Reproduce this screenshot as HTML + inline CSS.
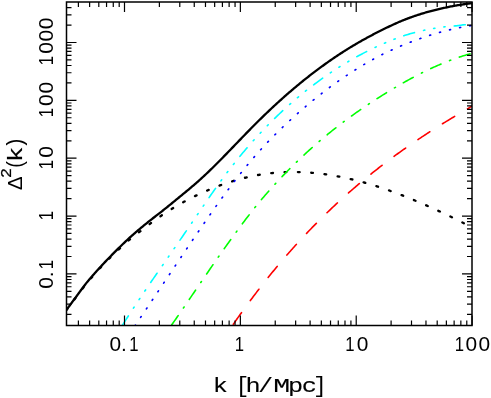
<!DOCTYPE html>
<html><head><meta charset="utf-8"><title>plot</title>
<style>
html,body{margin:0;padding:0;background:#fff;}
body{width:491px;height:398px;position:relative;overflow:hidden;font-family:"Liberation Mono",monospace;}
.t{position:absolute;font-family:"Liberation Mono",monospace;font-size:20px;color:#000;white-space:nowrap;line-height:24px;}
</style></head><body>
<svg width="491" height="398" viewBox="0 0 491 398" style="position:absolute;left:0;top:0">
<defs><clipPath id="c"><rect x="66.5" y="2.0" width="405.5" height="323.5"/></clipPath></defs>
<g clip-path="url(#c)" fill="none" stroke-linecap="butt" stroke-linejoin="round">
<path d="M26.90,357.52 L27.90,356.31 L28.90,355.10 L29.90,353.90 L30.90,352.69 L31.90,351.48 L32.90,350.28 L33.90,349.07 L34.90,347.87 L35.90,346.66 L36.90,345.45 L37.90,344.25 L38.90,343.04 L39.90,341.83 L40.90,340.63 L41.90,339.42 L42.90,338.21 L43.90,337.01 L44.90,335.80 L45.90,334.59 L46.90,333.39 L47.90,332.18 L48.90,330.98 L49.90,329.77 L50.90,328.56 L51.90,327.36 L52.90,326.15 L53.90,324.94 L54.90,323.74 L55.90,322.53 L56.90,321.32 L57.90,320.12 L58.90,318.91 L59.90,317.71 L60.90,316.50 L61.90,315.29 L62.90,314.09 L63.90,312.88 L64.90,311.67 L65.90,310.47 L66.90,309.22 L67.90,307.90 L68.90,306.58 L69.90,305.27 L70.90,303.95 L71.90,302.64 L72.90,301.33 L73.90,300.02 L74.90,298.71 L75.90,297.40 L76.90,296.08 L77.90,294.75 L78.90,293.41 L79.90,292.06 L80.90,290.71 L81.90,289.37 L82.90,288.04 L83.90,286.72 L84.90,285.43 L85.90,284.16 L86.90,282.93 L87.90,281.73 L88.90,280.56 L89.90,279.41 L90.90,278.27 L91.90,277.14 L92.90,276.01 L93.90,274.89 L94.90,273.78 L95.90,272.66 L96.90,271.54 L97.90,270.42 L98.90,269.31 L99.90,268.20 L100.90,267.10 L101.90,266.01 L102.90,264.93 L103.90,263.86 L104.90,262.80 L105.90,261.76 L106.90,260.74 L107.90,259.74 L108.90,258.77 L109.90,257.81 L110.90,256.87 L111.90,255.94 L112.90,255.01 L113.90,254.06 L114.90,253.11 L115.90,252.14 L116.90,251.18 L117.90,250.22 L118.90,249.27 L119.90,248.33 L120.90,247.39 L121.90,246.46 L122.90,245.53 L123.90,244.61 L124.90,243.70 L125.90,242.79 L126.90,241.91 L127.90,241.04 L128.90,240.19 L129.90,239.36 L130.90,238.54 L131.90,237.73 L132.90,236.93 L133.90,236.15 L134.90,235.37 L135.90,234.59 L136.90,233.82 L137.90,233.06 L138.90,232.30 L139.90,231.53 L140.90,230.77 L141.90,230.00 L142.90,229.23 L143.90,228.46 L144.90,227.68 L145.90,226.89 L146.90,226.11 L147.90,225.34 L148.90,224.58 L149.90,223.82 L150.90,223.07 L151.90,222.33 L152.90,221.59 L153.90,220.86 L154.90,220.13 L155.90,219.42 L156.90,218.70 L157.90,218.00 L158.90,217.30 L159.90,216.61 L160.90,215.92 L161.90,215.25 L162.90,214.57 L163.90,213.91 L164.90,213.25 L165.90,212.59 L166.90,211.94 L167.90,211.30 L168.90,210.67 L169.90,210.04 L170.90,209.41 L171.90,208.79 L172.90,208.18 L173.90,207.58 L174.90,206.98 L175.90,206.38 L176.90,205.79 L177.90,205.21 L178.90,204.63 L179.90,204.06 L180.90,203.50 L181.90,202.94 L182.90,202.38 L183.90,201.83 L184.90,201.29 L185.90,200.75 L186.90,200.22 L187.90,199.69 L188.90,199.17 L189.90,198.65 L190.90,198.14 L191.90,197.64 L192.90,197.14 L193.90,196.64 L194.90,196.15 L195.90,195.66 L196.90,195.18 L197.90,194.71 L198.90,194.24 L199.90,193.77 L200.90,193.31 L201.90,192.86 L202.90,192.40 L203.90,191.96 L204.90,191.52 L205.90,191.08 L206.90,190.65 L207.90,190.22 L208.90,189.80 L209.90,189.38 L210.90,188.97 L211.90,188.56 L212.90,188.16 L213.90,187.76 L214.90,187.36 L215.90,186.97 L216.90,186.59 L217.90,186.21 L218.90,185.83 L219.90,185.46 L220.90,185.09 L221.90,184.73 L222.90,184.38 L223.90,184.02 L224.90,183.68 L225.90,183.33 L226.90,183.00 L227.90,182.67 L228.90,182.34 L229.90,182.02 L230.90,181.70 L231.90,181.39 L232.90,181.08 L233.90,180.78 L234.90,180.48 L235.90,180.19 L236.90,179.90 L237.90,179.62 L238.90,179.34 L239.90,179.07 L240.90,178.80 L241.90,178.54 L242.90,178.28 L243.90,178.03 L244.90,177.78 L245.90,177.54 L246.90,177.30 L247.90,177.07 L248.90,176.84 L249.90,176.62 L250.90,176.41 L251.90,176.20 L252.90,175.99 L253.90,175.79 L254.90,175.59 L255.90,175.41 L256.90,175.22 L257.90,175.04 L258.90,174.87 L259.90,174.70 L260.90,174.54 L261.90,174.38 L262.90,174.23 L263.90,174.08 L264.90,173.94 L265.90,173.80 L266.90,173.67 L267.90,173.54 L268.90,173.42 L269.90,173.31 L270.90,173.19 L271.90,173.09 L272.90,172.99 L273.90,172.89 L274.90,172.80 L275.90,172.72 L276.90,172.63 L277.90,172.56 L278.90,172.49 L279.90,172.42 L280.90,172.36 L281.90,172.31 L282.90,172.25 L283.90,172.21 L284.90,172.17 L285.90,172.13 L286.90,172.10 L287.90,172.07 L288.90,172.05 L289.90,172.03 L290.90,172.02 L291.90,172.01 L292.90,172.01 L293.90,172.01 L294.90,172.01 L295.90,172.02 L296.90,172.04 L297.90,172.06 L298.90,172.08 L299.90,172.11 L300.90,172.14 L301.90,172.18 L302.90,172.22 L303.90,172.27 L304.90,172.32 L305.90,172.38 L306.90,172.44 L307.90,172.50 L308.90,172.57 L309.90,172.64 L310.90,172.72 L311.90,172.80 L312.90,172.89 L313.90,172.98 L314.90,173.07 L315.90,173.17 L316.90,173.27 L317.90,173.38 L318.90,173.49 L319.90,173.61 L320.90,173.73 L321.90,173.85 L322.90,173.98 L323.90,174.11 L324.90,174.24 L325.90,174.38 L326.90,174.53 L327.90,174.67 L328.90,174.83 L329.90,174.98 L330.90,175.14 L331.90,175.30 L332.90,175.47 L333.90,175.64 L334.90,175.82 L335.90,175.99 L336.90,176.18 L337.90,176.36 L338.90,176.55 L339.90,176.75 L340.90,176.94 L341.90,177.15 L342.90,177.35 L343.90,177.56 L344.90,177.77 L345.90,177.99 L346.90,178.21 L347.90,178.43 L348.90,178.66 L349.90,178.89 L350.90,179.12 L351.90,179.36 L352.90,179.60 L353.90,179.84 L354.90,180.09 L355.90,180.34 L356.90,180.59 L357.90,180.85 L358.90,181.11 L359.90,181.38 L360.90,181.64 L361.90,181.91 L362.90,182.19 L363.90,182.47 L364.90,182.75 L365.90,183.03 L366.90,183.32 L367.90,183.61 L368.90,183.90 L369.90,184.20 L370.90,184.50 L371.90,184.80 L372.90,185.11 L373.90,185.41 L374.90,185.73 L375.90,186.04 L376.90,186.36 L377.90,186.68 L378.90,187.00 L379.90,187.33 L380.90,187.66 L381.90,187.99 L382.90,188.33 L383.90,188.67 L384.90,189.01 L385.90,189.35 L386.90,189.70 L387.90,190.05 L388.90,190.40 L389.90,190.75 L390.90,191.11 L391.90,191.47 L392.90,191.84 L393.90,192.20 L394.90,192.57 L395.90,192.94 L396.90,193.32 L397.90,193.69 L398.90,194.07 L399.90,194.45 L400.90,194.84 L401.90,195.22 L402.90,195.61 L403.90,196.00 L404.90,196.40 L405.90,196.79 L406.90,197.19 L407.90,197.59 L408.90,197.99 L409.90,198.40 L410.90,198.81 L411.90,199.22 L412.90,199.63 L413.90,200.04 L414.90,200.46 L415.90,200.88 L416.90,201.30 L417.90,201.73 L418.90,202.15 L419.90,202.58 L420.90,203.01 L421.90,203.44 L422.90,203.88 L423.90,204.31 L424.90,204.75 L425.90,205.19 L426.90,205.63 L427.90,206.08 L428.90,206.52 L429.90,206.97 L430.90,207.42 L431.90,207.87 L432.90,208.33 L433.90,208.78 L434.90,209.24 L435.90,209.70 L436.90,210.16 L437.90,210.62 L438.90,211.09 L439.90,211.55 L440.90,212.02 L441.90,212.49 L442.90,212.96 L443.90,213.44 L444.90,213.91 L445.90,214.39 L446.90,214.87 L447.90,215.35 L448.90,215.83 L449.90,216.31 L450.90,216.79 L451.90,217.28 L452.90,217.77 L453.90,218.25 L454.90,218.74 L455.90,219.24 L456.90,219.73 L457.90,220.22 L458.90,220.72 L459.90,221.22 L460.90,221.71 L461.90,222.21 L462.90,222.71 L463.90,223.22 L464.90,223.72 L465.90,224.22 L466.90,224.73 L467.90,225.24 L468.90,225.75 L469.90,226.25 L470.90,226.76 L471.90,227.28 L472.90,227.79 L473.90,228.30 L474.90,228.81 L475.90,229.32 L476.90,229.84 L477.90,230.35 L478.90,230.86 L479.90,231.37 L480.90,231.88 L481.90,232.40 L482.90,232.91 L483.90,233.42 L484.90,233.93 L485.90,234.44 L486.90,234.96 L487.90,235.47 L488.90,235.98 L489.90,236.49 L490.90,237.01 L491.90,237.52" stroke="#000" stroke-width="2.35" stroke-dasharray="1.7,11.64" stroke-dashoffset="4.73" stroke-linecap="round"/>
<path d="M192.30,383.77 L193.30,382.32 L194.30,380.86 L195.30,379.41 L196.30,377.96 L197.30,376.51 L198.30,375.06 L199.30,373.61 L200.30,372.16 L201.30,370.71 L202.30,369.26 L203.30,367.81 L204.30,366.36 L205.30,364.91 L206.30,363.45 L207.30,362.00 L208.30,360.55 L209.30,359.10 L210.30,357.65 L211.30,356.20 L212.30,354.75 L213.30,353.30 L214.30,351.85 L215.30,350.40 L216.30,348.95 L217.30,347.50 L218.30,346.05 L219.30,344.59 L220.30,343.14 L221.30,341.69 L222.30,340.24 L223.30,338.79 L224.30,337.34 L225.30,335.89 L226.30,334.44 L227.30,332.99 L228.30,331.54 L229.30,330.09 L230.30,328.64 L231.30,327.19 L232.30,325.73 L233.30,324.29 L234.30,322.84 L235.30,321.41 L236.30,319.98 L237.30,318.56 L238.30,317.14 L239.30,315.73 L240.30,314.32 L241.30,312.92 L242.30,311.53 L243.30,310.14 L244.30,308.76 L245.30,307.38 L246.30,306.01 L247.30,304.65 L248.30,303.29 L249.30,301.93 L250.30,300.59 L251.30,299.24 L252.30,297.91 L253.30,296.58 L254.30,295.25 L255.30,293.93 L256.30,292.62 L257.30,291.31 L258.30,290.01 L259.30,288.71 L260.30,287.42 L261.30,286.14 L262.30,284.86 L263.30,283.58 L264.30,282.31 L265.30,281.05 L266.30,279.79 L267.30,278.54 L268.30,277.29 L269.30,276.05 L270.30,274.81 L271.30,273.58 L272.30,272.35 L273.30,271.13 L274.30,269.92 L275.30,268.71 L276.30,267.50 L277.30,266.30 L278.30,265.11 L279.30,263.92 L280.30,262.73 L281.30,261.55 L282.30,260.38 L283.30,259.21 L284.30,258.05 L285.30,256.89 L286.30,255.73 L287.30,254.58 L288.30,253.44 L289.30,252.30 L290.30,251.16 L291.30,250.03 L292.30,248.91 L293.30,247.79 L294.30,246.68 L295.30,245.57 L296.30,244.46 L297.30,243.36 L298.30,242.26 L299.30,241.17 L300.30,240.09 L301.30,239.00 L302.30,237.93 L303.30,236.86 L304.30,235.79 L305.30,234.73 L306.30,233.67 L307.30,232.61 L308.30,231.56 L309.30,230.52 L310.30,229.48 L311.30,228.44 L312.30,227.41 L313.30,226.39 L314.30,225.36 L315.30,224.35 L316.30,223.33 L317.30,222.32 L318.30,221.32 L319.30,220.32 L320.30,219.32 L321.30,218.33 L322.30,217.34 L323.30,216.36 L324.30,215.38 L325.30,214.41 L326.30,213.43 L327.30,212.47 L328.30,211.51 L329.30,210.55 L330.30,209.59 L331.30,208.64 L332.30,207.70 L333.30,206.76 L334.30,205.82 L335.30,204.89 L336.30,203.96 L337.30,203.03 L338.30,202.11 L339.30,201.19 L340.30,200.28 L341.30,199.37 L342.30,198.46 L343.30,197.56 L344.30,196.66 L345.30,195.76 L346.30,194.87 L347.30,193.99 L348.30,193.10 L349.30,192.22 L350.30,191.35 L351.30,190.48 L352.30,189.61 L353.30,188.74 L354.30,187.88 L355.30,187.02 L356.30,186.17 L357.30,185.32 L358.30,184.47 L359.30,183.63 L360.30,182.79 L361.30,181.95 L362.30,181.12 L363.30,180.29 L364.30,179.46 L365.30,178.64 L366.30,177.82 L367.30,177.00 L368.30,176.19 L369.30,175.38 L370.30,174.58 L371.30,173.77 L372.30,172.97 L373.30,172.18 L374.30,171.39 L375.30,170.60 L376.30,169.81 L377.30,169.03 L378.30,168.25 L379.30,167.47 L380.30,166.69 L381.30,165.92 L382.30,165.16 L383.30,164.39 L384.30,163.63 L385.30,162.87 L386.30,162.11 L387.30,161.36 L388.30,160.61 L389.30,159.86 L390.30,159.12 L391.30,158.38 L392.30,157.64 L393.30,156.90 L394.30,156.17 L395.30,155.44 L396.30,154.71 L397.30,153.99 L398.30,153.27 L399.30,152.55 L400.30,151.83 L401.30,151.12 L402.30,150.41 L403.30,149.70 L404.30,148.99 L405.30,148.29 L406.30,147.59 L407.30,146.89 L408.30,146.20 L409.30,145.50 L410.30,144.81 L411.30,144.12 L412.30,143.44 L413.30,142.76 L414.30,142.07 L415.30,141.40 L416.30,140.72 L417.30,140.05 L418.30,139.38 L419.30,138.71 L420.30,138.04 L421.30,137.38 L422.30,136.71 L423.30,136.05 L424.30,135.40 L425.30,134.74 L426.30,134.09 L427.30,133.43 L428.30,132.79 L429.30,132.14 L430.30,131.49 L431.30,130.85 L432.30,130.21 L433.30,129.57 L434.30,128.93 L435.30,128.30 L436.30,127.67 L437.30,127.04 L438.30,126.41 L439.30,125.78 L440.30,125.15 L441.30,124.53 L442.30,123.91 L443.30,123.29 L444.30,122.67 L445.30,122.06 L446.30,121.44 L447.30,120.83 L448.30,120.22 L449.30,119.61 L450.30,119.00 L451.30,118.39 L452.30,117.79 L453.30,117.19 L454.30,116.59 L455.30,115.99 L456.30,115.39 L457.30,114.79 L458.30,114.20 L459.30,113.60 L460.30,113.01 L461.30,112.42 L462.30,111.83 L463.30,111.25 L464.30,110.66 L465.30,110.08 L466.30,109.49 L467.30,108.91 L468.30,108.33 L469.30,107.75 L470.30,107.17 L471.30,106.59 L472.30,106.02 L473.30,105.44 L474.30,104.87 L475.30,104.29 L476.30,103.72 L477.30,103.14 L478.30,102.57 L479.30,101.99 L480.30,101.42 L481.30,100.84 L482.30,100.27 L483.30,99.69 L484.30,99.12 L485.30,98.54 L486.30,97.96 L487.30,97.39 L488.30,96.81 L489.30,96.24 L490.30,95.66 L491.30,95.09" stroke="#ff0000" stroke-width="1.6" stroke-dasharray="14.2,15.0" stroke-dashoffset="15.36" stroke-linecap="round"/>
<path d="M130.50,383.41 L131.50,381.99 L132.50,380.57 L133.50,379.15 L134.50,377.73 L135.50,376.31 L136.50,374.89 L137.50,373.47 L138.50,372.04 L139.50,370.62 L140.50,369.20 L141.50,367.78 L142.50,366.36 L143.50,364.94 L144.50,363.52 L145.50,362.10 L146.50,360.68 L147.50,359.25 L148.50,357.83 L149.50,356.41 L150.50,354.99 L151.50,353.57 L152.50,352.15 L153.50,350.73 L154.50,349.31 L155.50,347.89 L156.50,346.46 L157.50,345.04 L158.50,343.62 L159.50,342.20 L160.50,340.78 L161.50,339.36 L162.50,337.94 L163.50,336.52 L164.50,335.10 L165.50,333.67 L166.50,332.25 L167.50,330.83 L168.50,329.41 L169.50,327.99 L170.50,326.57 L171.50,325.15 L172.50,323.72 L173.50,322.29 L174.50,320.86 L175.50,319.42 L176.50,317.98 L177.50,316.54 L178.50,315.09 L179.50,313.65 L180.50,312.20 L181.50,310.74 L182.50,309.29 L183.50,307.83 L184.50,306.38 L185.50,304.92 L186.50,303.45 L187.50,301.99 L188.50,300.53 L189.50,299.06 L190.50,297.60 L191.50,296.13 L192.50,294.66 L193.50,293.19 L194.50,291.73 L195.50,290.26 L196.50,288.79 L197.50,287.32 L198.50,285.85 L199.50,284.39 L200.50,282.92 L201.50,281.45 L202.50,279.99 L203.50,278.52 L204.50,277.06 L205.50,275.60 L206.50,274.14 L207.50,272.68 L208.50,271.22 L209.50,269.77 L210.50,268.31 L211.50,266.86 L212.50,265.41 L213.50,263.97 L214.50,262.53 L215.50,261.08 L216.50,259.65 L217.50,258.21 L218.50,256.78 L219.50,255.35 L220.50,253.93 L221.50,252.51 L222.50,251.09 L223.50,249.68 L224.50,248.27 L225.50,246.87 L226.50,245.47 L227.50,244.07 L228.50,242.68 L229.50,241.29 L230.50,239.91 L231.50,238.53 L232.50,237.16 L233.50,235.78 L234.50,234.41 L235.50,233.04 L236.50,231.68 L237.50,230.32 L238.50,228.96 L239.50,227.61 L240.50,226.26 L241.50,224.92 L242.50,223.58 L243.50,222.25 L244.50,220.92 L245.50,219.60 L246.50,218.29 L247.50,216.98 L248.50,215.68 L249.50,214.39 L250.50,213.10 L251.50,211.82 L252.50,210.55 L253.50,209.29 L254.50,208.04 L255.50,206.79 L256.50,205.56 L257.50,204.33 L258.50,203.12 L259.50,201.91 L260.50,200.72 L261.50,199.53 L262.50,198.35 L263.50,197.18 L264.50,196.01 L265.50,194.85 L266.50,193.70 L267.50,192.55 L268.50,191.42 L269.50,190.28 L270.50,189.16 L271.50,188.04 L272.50,186.93 L273.50,185.82 L274.50,184.73 L275.50,183.63 L276.50,182.55 L277.50,181.47 L278.50,180.40 L279.50,179.33 L280.50,178.27 L281.50,177.22 L282.50,176.17 L283.50,175.12 L284.50,174.09 L285.50,173.06 L286.50,172.03 L287.50,171.01 L288.50,170.00 L289.50,168.99 L290.50,167.99 L291.50,167.00 L292.50,166.01 L293.50,165.02 L294.50,164.04 L295.50,163.07 L296.50,162.10 L297.50,161.13 L298.50,160.17 L299.50,159.22 L300.50,158.27 L301.50,157.33 L302.50,156.39 L303.50,155.46 L304.50,154.53 L305.50,153.60 L306.50,152.69 L307.50,151.77 L308.50,150.86 L309.50,149.96 L310.50,149.06 L311.50,148.17 L312.50,147.28 L313.50,146.39 L314.50,145.51 L315.50,144.64 L316.50,143.77 L317.50,142.90 L318.50,142.04 L319.50,141.18 L320.50,140.33 L321.50,139.48 L322.50,138.64 L323.50,137.80 L324.50,136.97 L325.50,136.14 L326.50,135.31 L327.50,134.49 L328.50,133.68 L329.50,132.86 L330.50,132.05 L331.50,131.25 L332.50,130.45 L333.50,129.66 L334.50,128.86 L335.50,128.08 L336.50,127.29 L337.50,126.51 L338.50,125.74 L339.50,124.97 L340.50,124.20 L341.50,123.44 L342.50,122.68 L343.50,121.92 L344.50,121.17 L345.50,120.42 L346.50,119.68 L347.50,118.94 L348.50,118.20 L349.50,117.47 L350.50,116.74 L351.50,116.02 L352.50,115.30 L353.50,114.58 L354.50,113.86 L355.50,113.15 L356.50,112.45 L357.50,111.74 L358.50,111.04 L359.50,110.34 L360.50,109.65 L361.50,108.96 L362.50,108.27 L363.50,107.59 L364.50,106.91 L365.50,106.23 L366.50,105.56 L367.50,104.89 L368.50,104.22 L369.50,103.56 L370.50,102.89 L371.50,102.24 L372.50,101.58 L373.50,100.93 L374.50,100.28 L375.50,99.63 L376.50,98.99 L377.50,98.35 L378.50,97.71 L379.50,97.08 L380.50,96.45 L381.50,95.82 L382.50,95.19 L383.50,94.57 L384.50,93.95 L385.50,93.33 L386.50,92.72 L387.50,92.10 L388.50,91.49 L389.50,90.89 L390.50,90.28 L391.50,89.68 L392.50,89.08 L393.50,88.48 L394.50,87.89 L395.50,87.30 L396.50,86.71 L397.50,86.13 L398.50,85.55 L399.50,84.97 L400.50,84.39 L401.50,83.82 L402.50,83.25 L403.50,82.68 L404.50,82.12 L405.50,81.56 L406.50,81.00 L407.50,80.45 L408.50,79.90 L409.50,79.36 L410.50,78.81 L411.50,78.27 L412.50,77.74 L413.50,77.20 L414.50,76.67 L415.50,76.15 L416.50,75.63 L417.50,75.11 L418.50,74.59 L419.50,74.08 L420.50,73.58 L421.50,73.07 L422.50,72.57 L423.50,72.08 L424.50,71.58 L425.50,71.10 L426.50,70.61 L427.50,70.13 L428.50,69.66 L429.50,69.18 L430.50,68.72 L431.50,68.25 L432.50,67.79 L433.50,67.34 L434.50,66.88 L435.50,66.44 L436.50,65.99 L437.50,65.56 L438.50,65.12 L439.50,64.69 L440.50,64.26 L441.50,63.84 L442.50,63.43 L443.50,63.01 L444.50,62.61 L445.50,62.20 L446.50,61.80 L447.50,61.41 L448.50,61.02 L449.50,60.64 L450.50,60.26 L451.50,59.88 L452.50,59.51 L453.50,59.15 L454.50,58.79 L455.50,58.43 L456.50,58.08 L457.50,57.73 L458.50,57.39 L459.50,57.06 L460.50,56.73 L461.50,56.40 L462.50,56.08 L463.50,55.76 L464.50,55.45 L465.50,55.15 L466.50,54.85 L467.50,54.56 L468.50,54.27 L469.50,53.98 L470.50,53.70 L471.50,53.43 L472.50,53.16 L473.50,52.89 L474.50,52.62 L475.50,52.36 L476.50,52.09 L477.50,51.82 L478.50,51.55 L479.50,51.28 L480.50,51.01 L481.50,50.74 L482.50,50.47 L483.50,50.20 L484.50,49.93 L485.50,49.67 L486.50,49.40 L487.50,49.13 L488.50,48.86 L489.50,48.59 L490.50,48.32 L491.50,48.05" stroke="#00ff00" stroke-width="1.6" stroke-dasharray="11.2,9.25,1.2,9.16" stroke-dashoffset="20.75" stroke-linecap="round"/>
<path d="M95.30,384.14 L96.30,382.67 L97.30,381.20 L98.30,379.73 L99.30,378.26 L100.30,376.78 L101.30,375.31 L102.30,373.84 L103.30,372.37 L104.30,370.89 L105.30,369.42 L106.30,367.95 L107.30,366.48 L108.30,365.01 L109.30,363.53 L110.30,362.06 L111.30,360.59 L112.30,359.12 L113.30,357.65 L114.30,356.17 L115.30,354.70 L116.30,353.23 L117.30,351.76 L118.30,350.28 L119.30,348.81 L120.30,347.34 L121.30,345.87 L122.30,344.40 L123.30,342.92 L124.30,341.45 L125.30,339.98 L126.30,338.51 L127.30,337.04 L128.30,335.56 L129.30,334.09 L130.30,332.62 L131.30,331.15 L132.30,329.67 L133.30,328.20 L134.30,326.73 L135.30,325.26 L136.30,323.79 L137.30,322.31 L138.30,320.84 L139.30,319.36 L140.30,317.88 L141.30,316.40 L142.30,314.92 L143.30,313.44 L144.30,311.96 L145.30,310.47 L146.30,308.99 L147.30,307.50 L148.30,306.02 L149.30,304.53 L150.30,303.04 L151.30,301.55 L152.30,300.06 L153.30,298.57 L154.30,297.08 L155.30,295.59 L156.30,294.10 L157.30,292.61 L158.30,291.12 L159.30,289.62 L160.30,288.13 L161.30,286.64 L162.30,285.15 L163.30,283.65 L164.30,282.16 L165.30,280.67 L166.30,279.17 L167.30,277.68 L168.30,276.19 L169.30,274.69 L170.30,273.20 L171.30,271.71 L172.30,270.21 L173.30,268.72 L174.30,267.23 L175.30,265.74 L176.30,264.25 L177.30,262.76 L178.30,261.27 L179.30,259.78 L180.30,258.29 L181.30,256.80 L182.30,255.32 L183.30,253.83 L184.30,252.35 L185.30,250.86 L186.30,249.38 L187.30,247.90 L188.30,246.42 L189.30,244.94 L190.30,243.46 L191.30,241.98 L192.30,240.51 L193.30,239.03 L194.30,237.56 L195.30,236.09 L196.30,234.62 L197.30,233.16 L198.30,231.69 L199.30,230.23 L200.30,228.77 L201.30,227.32 L202.30,225.86 L203.30,224.41 L204.30,222.96 L205.30,221.52 L206.30,220.08 L207.30,218.64 L208.30,217.21 L209.30,215.78 L210.30,214.35 L211.30,212.92 L212.30,211.50 L213.30,210.09 L214.30,208.68 L215.30,207.27 L216.30,205.87 L217.30,204.47 L218.30,203.07 L219.30,201.69 L220.30,200.30 L221.30,198.92 L222.30,197.55 L223.30,196.18 L224.30,194.81 L225.30,193.46 L226.30,192.10 L227.30,190.76 L228.30,189.41 L229.30,188.08 L230.30,186.75 L231.30,185.42 L232.30,184.10 L233.30,182.79 L234.30,181.49 L235.30,180.19 L236.30,178.89 L237.30,177.61 L238.30,176.33 L239.30,175.06 L240.30,173.79 L241.30,172.53 L242.30,171.28 L243.30,170.04 L244.30,168.80 L245.30,167.57 L246.30,166.35 L247.30,165.13 L248.30,163.93 L249.30,162.73 L250.30,161.54 L251.30,160.36 L252.30,159.18 L253.30,158.02 L254.30,156.86 L255.30,155.71 L256.30,154.57 L257.30,153.44 L258.30,152.32 L259.30,151.20 L260.30,150.09 L261.30,148.99 L262.30,147.90 L263.30,146.82 L264.30,145.74 L265.30,144.67 L266.30,143.61 L267.30,142.55 L268.30,141.51 L269.30,140.46 L270.30,139.43 L271.30,138.40 L272.30,137.38 L273.30,136.37 L274.30,135.36 L275.30,134.36 L276.30,133.37 L277.30,132.38 L278.30,131.39 L279.30,130.42 L280.30,129.45 L281.30,128.48 L282.30,127.52 L283.30,126.57 L284.30,125.62 L285.30,124.67 L286.30,123.73 L287.30,122.80 L288.30,121.87 L289.30,120.95 L290.30,120.03 L291.30,119.11 L292.30,118.20 L293.30,117.30 L294.30,116.39 L295.30,115.50 L296.30,114.60 L297.30,113.72 L298.30,112.83 L299.30,111.95 L300.30,111.08 L301.30,110.21 L302.30,109.34 L303.30,108.48 L304.30,107.63 L305.30,106.78 L306.30,105.93 L307.30,105.09 L308.30,104.25 L309.30,103.41 L310.30,102.58 L311.30,101.76 L312.30,100.94 L313.30,100.12 L314.30,99.31 L315.30,98.50 L316.30,97.70 L317.30,96.90 L318.30,96.11 L319.30,95.32 L320.30,94.54 L321.30,93.76 L322.30,92.98 L323.30,92.21 L324.30,91.44 L325.30,90.68 L326.30,89.92 L327.30,89.17 L328.30,88.42 L329.30,87.67 L330.30,86.93 L331.30,86.20 L332.30,85.47 L333.30,84.74 L334.30,84.02 L335.30,83.30 L336.30,82.58 L337.30,81.87 L338.30,81.17 L339.30,80.47 L340.30,79.77 L341.30,79.08 L342.30,78.39 L343.30,77.71 L344.30,77.03 L345.30,76.35 L346.30,75.68 L347.30,75.02 L348.30,74.36 L349.30,73.70 L350.30,73.05 L351.30,72.40 L352.30,71.75 L353.30,71.11 L354.30,70.48 L355.30,69.85 L356.30,69.22 L357.30,68.60 L358.30,67.98 L359.30,67.36 L360.30,66.75 L361.30,66.15 L362.30,65.55 L363.30,64.95 L364.30,64.36 L365.30,63.77 L366.30,63.19 L367.30,62.61 L368.30,62.03 L369.30,61.46 L370.30,60.89 L371.30,60.33 L372.30,59.77 L373.30,59.22 L374.30,58.67 L375.30,58.12 L376.30,57.58 L377.30,57.04 L378.30,56.51 L379.30,55.98 L380.30,55.46 L381.30,54.94 L382.30,54.43 L383.30,53.93 L384.30,53.44 L385.30,52.95 L386.30,52.48 L387.30,52.00 L388.30,51.54 L389.30,51.08 L390.30,50.62 L391.30,50.17 L392.30,49.72 L393.30,49.28 L394.30,48.84 L395.30,48.40 L396.30,47.97 L397.30,47.54 L398.30,47.11 L399.30,46.68 L400.30,46.26 L401.30,45.83 L402.30,45.42 L403.30,45.00 L404.30,44.59 L405.30,44.18 L406.30,43.78 L407.30,43.38 L408.30,42.99 L409.30,42.60 L410.30,42.21 L411.30,41.83 L412.30,41.45 L413.30,41.07 L414.30,40.70 L415.30,40.32 L416.30,39.96 L417.30,39.59 L418.30,39.23 L419.30,38.87 L420.30,38.51 L421.30,38.16 L422.30,37.81 L423.30,37.46 L424.30,37.12 L425.30,36.78 L426.30,36.45 L427.30,36.12 L428.30,35.79 L429.30,35.47 L430.30,35.15 L431.30,34.84 L432.30,34.53 L433.30,34.22 L434.30,33.92 L435.30,33.63 L436.30,33.33 L437.30,33.04 L438.30,32.76 L439.30,32.48 L440.30,32.20 L441.30,31.93 L442.30,31.66 L443.30,31.39 L444.30,31.13 L445.30,30.88 L446.30,30.62 L447.30,30.37 L448.30,30.13 L449.30,29.89 L450.30,29.65 L451.30,29.42 L452.30,29.19 L453.30,28.96 L454.30,28.74 L455.30,28.52 L456.30,28.31 L457.30,28.10 L458.30,27.90 L459.30,27.70 L460.30,27.50 L461.30,27.30 L462.30,27.11 L463.30,26.93 L464.30,26.75 L465.30,26.57 L466.30,26.40 L467.30,26.23 L468.30,26.06 L469.30,25.90 L470.30,25.74 L471.30,25.58 L472.30,25.42 L473.30,25.26 L474.30,25.10 L475.30,24.95 L476.30,24.79 L477.30,24.63 L478.30,24.47 L479.30,24.31 L480.30,24.15 L481.30,23.99 L482.30,23.83 L483.30,23.68 L484.30,23.52 L485.30,23.36 L486.30,23.20 L487.30,23.04 L488.30,22.88 L489.30,22.72" stroke="#0000ff" stroke-width="1.65" stroke-dasharray="1.0,9.32" stroke-dashoffset="1.88" stroke-linecap="round"/>
<path d="M82.00,389.39 L83.00,387.81 L84.00,386.22 L85.00,384.63 L86.00,383.05 L87.00,381.46 L88.00,379.87 L89.00,378.28 L90.00,376.70 L91.00,375.11 L92.00,373.52 L93.00,371.93 L94.00,370.35 L95.00,368.76 L96.00,367.17 L97.00,365.58 L98.00,364.00 L99.00,362.41 L100.00,360.82 L101.00,359.23 L102.00,357.65 L103.00,356.06 L104.00,354.47 L105.00,352.88 L106.00,351.30 L107.00,349.71 L108.00,348.12 L109.00,346.53 L110.00,344.95 L111.00,343.36 L112.00,341.77 L113.00,340.18 L114.00,338.60 L115.00,337.01 L116.00,335.42 L117.00,333.83 L118.00,332.25 L119.00,330.66 L120.00,329.07 L121.00,327.48 L122.00,325.90 L123.00,324.31 L124.00,322.73 L125.00,321.16 L126.00,319.60 L127.00,318.04 L128.00,316.48 L129.00,314.93 L130.00,313.39 L131.00,311.85 L132.00,310.32 L133.00,308.79 L134.00,307.27 L135.00,305.75 L136.00,304.24 L137.00,302.73 L138.00,301.22 L139.00,299.72 L140.00,298.23 L141.00,296.73 L142.00,295.25 L143.00,293.76 L144.00,292.28 L145.00,290.81 L146.00,289.33 L147.00,287.86 L148.00,286.39 L149.00,284.93 L150.00,283.47 L151.00,282.01 L152.00,280.55 L153.00,279.10 L154.00,277.65 L155.00,276.20 L156.00,274.76 L157.00,273.31 L158.00,271.87 L159.00,270.43 L160.00,268.99 L161.00,267.55 L162.00,266.11 L163.00,264.67 L164.00,263.23 L165.00,261.79 L166.00,260.35 L167.00,258.91 L168.00,257.46 L169.00,256.02 L170.00,254.58 L171.00,253.13 L172.00,251.69 L173.00,250.24 L174.00,248.79 L175.00,247.35 L176.00,245.90 L177.00,244.45 L178.00,243.00 L179.00,241.54 L180.00,240.09 L181.00,238.64 L182.00,237.18 L183.00,235.73 L184.00,234.27 L185.00,232.81 L186.00,231.35 L187.00,229.89 L188.00,228.43 L189.00,226.96 L190.00,225.50 L191.00,224.03 L192.00,222.56 L193.00,221.09 L194.00,219.62 L195.00,218.15 L196.00,216.68 L197.00,215.21 L198.00,213.74 L199.00,212.28 L200.00,210.81 L201.00,209.35 L202.00,207.89 L203.00,206.42 L204.00,204.96 L205.00,203.51 L206.00,202.05 L207.00,200.60 L208.00,199.15 L209.00,197.70 L210.00,196.26 L211.00,194.82 L212.00,193.39 L213.00,191.96 L214.00,190.54 L215.00,189.12 L216.00,187.71 L217.00,186.31 L218.00,184.91 L219.00,183.52 L220.00,182.13 L221.00,180.76 L222.00,179.39 L223.00,178.03 L224.00,176.68 L225.00,175.34 L226.00,174.01 L227.00,172.69 L228.00,171.37 L229.00,170.06 L230.00,168.76 L231.00,167.47 L232.00,166.19 L233.00,164.91 L234.00,163.64 L235.00,162.38 L236.00,161.13 L237.00,159.89 L238.00,158.65 L239.00,157.43 L240.00,156.20 L241.00,154.99 L242.00,153.79 L243.00,152.59 L244.00,151.40 L245.00,150.22 L246.00,149.05 L247.00,147.88 L248.00,146.72 L249.00,145.57 L250.00,144.42 L251.00,143.29 L252.00,142.16 L253.00,141.03 L254.00,139.92 L255.00,138.81 L256.00,137.71 L257.00,136.61 L258.00,135.53 L259.00,134.45 L260.00,133.37 L261.00,132.31 L262.00,131.25 L263.00,130.19 L264.00,129.15 L265.00,128.11 L266.00,127.07 L267.00,126.05 L268.00,125.03 L269.00,124.01 L270.00,123.01 L271.00,122.01 L272.00,121.01 L273.00,120.03 L274.00,119.04 L275.00,118.07 L276.00,117.10 L277.00,116.14 L278.00,115.18 L279.00,114.23 L280.00,113.29 L281.00,112.35 L282.00,111.41 L283.00,110.49 L284.00,109.57 L285.00,108.65 L286.00,107.74 L287.00,106.84 L288.00,105.94 L289.00,105.05 L290.00,104.16 L291.00,103.28 L292.00,102.41 L293.00,101.54 L294.00,100.67 L295.00,99.81 L296.00,98.96 L297.00,98.11 L298.00,97.27 L299.00,96.43 L300.00,95.60 L301.00,94.78 L302.00,93.95 L303.00,93.14 L304.00,92.33 L305.00,91.52 L306.00,90.72 L307.00,89.93 L308.00,89.14 L309.00,88.36 L310.00,87.58 L311.00,86.81 L312.00,86.04 L313.00,85.27 L314.00,84.52 L315.00,83.76 L316.00,83.02 L317.00,82.27 L318.00,81.54 L319.00,80.81 L320.00,80.08 L321.00,79.36 L322.00,78.64 L323.00,77.93 L324.00,77.22 L325.00,76.52 L326.00,75.82 L327.00,75.13 L328.00,74.44 L329.00,73.76 L330.00,73.08 L331.00,72.41 L332.00,71.75 L333.00,71.08 L334.00,70.43 L335.00,69.77 L336.00,69.12 L337.00,68.48 L338.00,67.84 L339.00,67.21 L340.00,66.58 L341.00,65.96 L342.00,65.34 L343.00,64.72 L344.00,64.11 L345.00,63.51 L346.00,62.91 L347.00,62.31 L348.00,61.72 L349.00,61.13 L350.00,60.55 L351.00,59.97 L352.00,59.40 L353.00,58.83 L354.00,58.27 L355.00,57.71 L356.00,57.16 L357.00,56.61 L358.00,56.06 L359.00,55.52 L360.00,54.98 L361.00,54.45 L362.00,53.92 L363.00,53.40 L364.00,52.88 L365.00,52.36 L366.00,51.85 L367.00,51.35 L368.00,50.84 L369.00,50.35 L370.00,49.85 L371.00,49.36 L372.00,48.88 L373.00,48.40 L374.00,47.92 L375.00,47.45 L376.00,46.98 L377.00,46.52 L378.00,46.06 L379.00,45.60 L380.00,45.15 L381.00,44.70 L382.00,44.26 L383.00,43.82 L384.00,43.39 L385.00,42.96 L386.00,42.53 L387.00,42.11 L388.00,41.70 L389.00,41.28 L390.00,40.88 L391.00,40.47 L392.00,40.07 L393.00,39.68 L394.00,39.29 L395.00,38.90 L396.00,38.52 L397.00,38.15 L398.00,37.78 L399.00,37.41 L400.00,37.05 L401.00,36.69 L402.00,36.35 L403.00,36.01 L404.00,35.67 L405.00,35.35 L406.00,35.03 L407.00,34.72 L408.00,34.42 L409.00,34.12 L410.00,33.83 L411.00,33.55 L412.00,33.27 L413.00,33.00 L414.00,32.73 L415.00,32.47 L416.00,32.21 L417.00,31.96 L418.00,31.72 L419.00,31.47 L420.00,31.24 L421.00,31.00 L422.00,30.78 L423.00,30.55 L424.00,30.33 L425.00,30.11 L426.00,29.90 L427.00,29.70 L428.00,29.50 L429.00,29.30 L430.00,29.11 L431.00,28.93 L432.00,28.75 L433.00,28.57 L434.00,28.39 L435.00,28.22 L436.00,28.05 L437.00,27.89 L438.00,27.73 L439.00,27.58 L440.00,27.43 L441.00,27.29 L442.00,27.15 L443.00,27.02 L444.00,26.90 L445.00,26.78 L446.00,26.67 L447.00,26.56 L448.00,26.46 L449.00,26.37 L450.00,26.29 L451.00,26.20 L452.00,26.13 L453.00,26.05 L454.00,25.98 L455.00,25.91 L456.00,25.83 L457.00,25.73 L458.00,25.60 L459.00,25.46 L460.00,25.32 L461.00,25.17 L462.00,25.03 L463.00,24.90 L464.00,24.80 L465.00,24.71 L466.00,24.66 L467.00,24.64 L468.00,24.65 L469.00,24.67 L470.00,24.69 L471.00,24.72 L472.00,24.75 L473.00,24.79 L474.00,24.82 L475.00,24.86 L476.00,24.90 L477.00,24.94 L478.00,24.97 L479.00,25.01 L480.00,25.05 L481.00,25.08 L482.00,25.12 L483.00,25.16 L484.00,25.19 L485.00,25.23 L486.00,25.27 L487.00,25.31 L488.00,25.34 L489.00,25.38 L490.00,25.42 L491.00,25.45" stroke="#00ffff" stroke-width="1.6" stroke-dasharray="11.2,9.3,1.3,9.0,1.3,9.0,1.3,9.1" stroke-dashoffset="27.38" stroke-linecap="round"/>
<path d="M26.90,357.85 L27.90,356.64 L28.90,355.43 L29.90,354.22 L30.90,353.01 L31.90,351.80 L32.90,350.59 L33.90,349.38 L34.90,348.16 L35.90,346.95 L36.90,345.74 L37.90,344.53 L38.90,343.32 L39.90,342.10 L40.90,340.89 L41.90,339.68 L42.90,338.47 L43.90,337.26 L44.90,336.04 L45.90,334.83 L46.90,333.62 L47.90,332.41 L48.90,331.19 L49.90,329.98 L50.90,328.77 L51.90,327.56 L52.90,326.34 L53.90,325.13 L54.90,323.92 L55.90,322.70 L56.90,321.49 L57.90,320.28 L58.90,319.06 L59.90,317.85 L60.90,316.64 L61.90,315.42 L62.90,314.21 L63.90,312.99 L64.90,311.78 L65.90,310.57 L66.90,309.29 L67.90,307.93 L68.90,306.57 L69.90,305.21 L70.90,303.85 L71.90,302.50 L72.90,301.15 L73.90,299.80 L74.90,298.45 L75.90,297.11 L76.90,295.76 L77.90,294.40 L78.90,293.03 L79.90,291.65 L80.90,290.28 L81.90,288.92 L82.90,287.57 L83.90,286.23 L84.90,284.93 L85.90,283.65 L86.90,282.40 L87.90,281.19 L88.90,280.02 L89.90,278.85 L90.90,277.68 L91.90,276.52 L92.90,275.37 L93.90,274.23 L94.90,273.09 L95.90,271.96 L96.90,270.84 L97.90,269.73 L98.90,268.62 L99.90,267.52 L100.90,266.43 L101.90,265.35 L102.90,264.27 L103.90,263.20 L104.90,262.14 L105.90,261.09 L106.90,260.05 L107.90,259.01 L108.90,257.98 L109.90,256.96 L110.90,255.94 L111.90,254.92 L112.90,253.91 L113.90,252.90 L114.90,251.90 L115.90,250.90 L116.90,249.90 L117.90,248.91 L118.90,247.93 L119.90,246.95 L120.90,245.97 L121.90,245.00 L122.90,244.03 L123.90,243.07 L124.90,242.12 L125.90,241.17 L126.90,240.23 L127.90,239.30 L128.90,238.38 L129.90,237.47 L130.90,236.57 L131.90,235.68 L132.90,234.80 L133.90,233.93 L134.90,233.06 L135.90,232.20 L136.90,231.34 L137.90,230.49 L138.90,229.65 L139.90,228.81 L140.90,227.97 L141.90,227.14 L142.90,226.31 L143.90,225.48 L144.90,224.65 L145.90,223.83 L146.90,223.02 L147.90,222.21 L148.90,221.41 L149.90,220.62 L150.90,219.83 L151.90,219.05 L152.90,218.27 L153.90,217.49 L154.90,216.72 L155.90,215.94 L156.90,215.17 L157.90,214.40 L158.90,213.62 L159.90,212.85 L160.90,212.07 L161.90,211.29 L162.90,210.50 L163.90,209.71 L164.90,208.91 L165.90,208.11 L166.90,207.30 L167.90,206.49 L168.90,205.68 L169.90,204.87 L170.90,204.06 L171.90,203.24 L172.90,202.42 L173.90,201.61 L174.90,200.79 L175.90,199.97 L176.90,199.14 L177.90,198.32 L178.90,197.50 L179.90,196.68 L180.90,195.86 L181.90,195.03 L182.90,194.21 L183.90,193.39 L184.90,192.57 L185.90,191.75 L186.90,190.93 L187.90,190.10 L188.90,189.26 L189.90,188.43 L190.90,187.58 L191.90,186.74 L192.90,185.88 L193.90,185.02 L194.90,184.16 L195.90,183.29 L196.90,182.41 L197.90,181.52 L198.90,180.63 L199.90,179.74 L200.90,178.83 L201.90,177.92 L202.90,177.01 L203.90,176.09 L204.90,175.16 L205.90,174.22 L206.90,173.28 L207.90,172.33 L208.90,171.37 L209.90,170.41 L210.90,169.45 L211.90,168.47 L212.90,167.49 L213.90,166.51 L214.90,165.52 L215.90,164.52 L216.90,163.53 L217.90,162.52 L218.90,161.51 L219.90,160.50 L220.90,159.49 L221.90,158.47 L222.90,157.45 L223.90,156.43 L224.90,155.40 L225.90,154.37 L226.90,153.34 L227.90,152.31 L228.90,151.28 L229.90,150.24 L230.90,149.21 L231.90,148.17 L232.90,147.13 L233.90,146.10 L234.90,145.06 L235.90,144.02 L236.90,142.98 L237.90,141.94 L238.90,140.91 L239.90,139.87 L240.90,138.83 L241.90,137.80 L242.90,136.76 L243.90,135.73 L244.90,134.70 L245.90,133.67 L246.90,132.64 L247.90,131.62 L248.90,130.59 L249.90,129.57 L250.90,128.56 L251.90,127.54 L252.90,126.53 L253.90,125.52 L254.90,124.52 L255.90,123.51 L256.90,122.52 L257.90,121.52 L258.90,120.53 L259.90,119.55 L260.90,118.56 L261.90,117.59 L262.90,116.61 L263.90,115.64 L264.90,114.68 L265.90,113.71 L266.90,112.75 L267.90,111.80 L268.90,110.85 L269.90,109.91 L270.90,108.96 L271.90,108.03 L272.90,107.09 L273.90,106.17 L274.90,105.24 L275.90,104.32 L276.90,103.40 L277.90,102.49 L278.90,101.58 L279.90,100.68 L280.90,99.78 L281.90,98.89 L282.90,97.99 L283.90,97.11 L284.90,96.22 L285.90,95.35 L286.90,94.47 L287.90,93.60 L288.90,92.73 L289.90,91.87 L290.90,91.01 L291.90,90.16 L292.90,89.30 L293.90,88.46 L294.90,87.61 L295.90,86.77 L296.90,85.94 L297.90,85.11 L298.90,84.28 L299.90,83.46 L300.90,82.64 L301.90,81.82 L302.90,81.01 L303.90,80.21 L304.90,79.41 L305.90,78.61 L306.90,77.82 L307.90,77.03 L308.90,76.24 L309.90,75.46 L310.90,74.69 L311.90,73.92 L312.90,73.15 L313.90,72.39 L314.90,71.63 L315.90,70.87 L316.90,70.12 L317.90,69.37 L318.90,68.63 L319.90,67.89 L320.90,67.16 L321.90,66.43 L322.90,65.70 L323.90,64.97 L324.90,64.25 L325.90,63.54 L326.90,62.83 L327.90,62.12 L328.90,61.42 L329.90,60.72 L330.90,60.02 L331.90,59.33 L332.90,58.65 L333.90,57.96 L334.90,57.29 L335.90,56.61 L336.90,55.95 L337.90,55.28 L338.90,54.62 L339.90,53.97 L340.90,53.31 L341.90,52.67 L342.90,52.02 L343.90,51.39 L344.90,50.75 L345.90,50.12 L346.90,49.49 L347.90,48.87 L348.90,48.26 L349.90,47.64 L350.90,47.03 L351.90,46.43 L352.90,45.83 L353.90,45.23 L354.90,44.64 L355.90,44.05 L356.90,43.47 L357.90,42.88 L358.90,42.31 L359.90,41.74 L360.90,41.17 L361.90,40.61 L362.90,40.05 L363.90,39.49 L364.90,38.94 L365.90,38.39 L366.90,37.85 L367.90,37.30 L368.90,36.76 L369.90,36.22 L370.90,35.69 L371.90,35.16 L372.90,34.63 L373.90,34.10 L374.90,33.58 L375.90,33.06 L376.90,32.54 L377.90,32.03 L378.90,31.52 L379.90,31.01 L380.90,30.51 L381.90,30.01 L382.90,29.51 L383.90,29.02 L384.90,28.53 L385.90,28.05 L386.90,27.57 L387.90,27.09 L388.90,26.62 L389.90,26.15 L390.90,25.69 L391.90,25.22 L392.90,24.76 L393.90,24.30 L394.90,23.84 L395.90,23.39 L396.90,22.94 L397.90,22.49 L398.90,22.05 L399.90,21.62 L400.90,21.19 L401.90,20.77 L402.90,20.36 L403.90,19.96 L404.90,19.57 L405.90,19.18 L406.90,18.80 L407.90,18.42 L408.90,18.05 L409.90,17.69 L410.90,17.33 L411.90,16.97 L412.90,16.62 L413.90,16.27 L414.90,15.93 L415.90,15.59 L416.90,15.26 L417.90,14.93 L418.90,14.61 L419.90,14.29 L420.90,13.97 L421.90,13.66 L422.90,13.36 L423.90,13.06 L424.90,12.76 L425.90,12.47 L426.90,12.19 L427.90,11.92 L428.90,11.65 L429.90,11.39 L430.90,11.14 L431.90,10.88 L432.90,10.64 L433.90,10.39 L434.90,10.14 L435.90,9.90 L436.90,9.65 L437.90,9.40 L438.90,9.16 L439.90,8.91 L440.90,8.67 L441.90,8.44 L442.90,8.20 L443.90,7.97 L444.90,7.75 L445.90,7.52 L446.90,7.31 L447.90,7.09 L448.90,6.88 L449.90,6.68 L450.90,6.48 L451.90,6.29 L452.90,6.09 L453.90,5.91 L454.90,5.72 L455.90,5.54 L456.90,5.37 L457.90,5.20 L458.90,5.03 L459.90,4.87 L460.90,4.71 L461.90,4.56 L462.90,4.41 L463.90,4.26 L464.90,4.12 L465.90,3.98 L466.90,3.85 L467.90,3.72 L468.90,3.59 L469.90,3.47 L470.90,3.35 L471.90,3.23 L472.90,3.13 L473.90,3.04 L474.90,2.94 L475.90,2.84 L476.90,2.74 L477.90,2.64 L478.90,2.53 L479.90,2.43 L480.90,2.33 L481.90,2.22 L482.90,2.12 L483.90,2.01 L484.90,1.91 L485.90,1.80 L486.90,1.69 L487.90,1.59 L488.90,1.48 L489.90,1.37 L490.90,1.26" stroke="#000" stroke-width="2.3"/>
</g>
<rect x="66.5" y="2.0" width="405.5" height="323.5" fill="none" stroke="#000" stroke-width="1.5"/>
<path d="M78.39,325.5 v-5 M78.39,2.0 v5 M89.62,325.5 v-5 M89.62,2.0 v5 M98.80,325.5 v-5 M98.80,2.0 v5 M106.55,325.5 v-5 M106.55,2.0 v5 M113.27,325.5 v-5 M113.27,2.0 v5 M119.20,325.5 v-5 M119.20,2.0 v5 M124.50,325.5 v-10 M124.50,2.0 v10 M159.38,325.5 v-5 M159.38,2.0 v5 M179.78,325.5 v-5 M179.78,2.0 v5 M194.25,325.5 v-5 M194.25,2.0 v5 M205.48,325.5 v-5 M205.48,2.0 v5 M214.66,325.5 v-5 M214.66,2.0 v5 M222.41,325.5 v-5 M222.41,2.0 v5 M229.13,325.5 v-5 M229.13,2.0 v5 M235.06,325.5 v-5 M235.06,2.0 v5 M240.36,325.5 v-10 M240.36,2.0 v10 M275.24,325.5 v-5 M275.24,2.0 v5 M295.64,325.5 v-5 M295.64,2.0 v5 M310.11,325.5 v-5 M310.11,2.0 v5 M321.34,325.5 v-5 M321.34,2.0 v5 M330.52,325.5 v-5 M330.52,2.0 v5 M338.27,325.5 v-5 M338.27,2.0 v5 M344.99,325.5 v-5 M344.99,2.0 v5 M350.92,325.5 v-5 M350.92,2.0 v5 M356.22,325.5 v-10 M356.22,2.0 v10 M391.10,325.5 v-5 M391.10,2.0 v5 M411.50,325.5 v-5 M411.50,2.0 v5 M425.97,325.5 v-5 M425.97,2.0 v5 M437.20,325.5 v-5 M437.20,2.0 v5 M446.38,325.5 v-5 M446.38,2.0 v5 M454.13,325.5 v-5 M454.13,2.0 v5 M460.85,325.5 v-5 M460.85,2.0 v5 M466.78,325.5 v-5 M466.78,2.0 v5 M472.08,325.5 v-10 M472.08,2.0 v10 M66.5,314.34 h5 M472.0,314.34 h-5 M66.5,304.15 h5 M472.0,304.15 h-5 M66.5,296.92 h5 M472.0,296.92 h-5 M66.5,291.31 h5 M472.0,291.31 h-5 M66.5,286.73 h5 M472.0,286.73 h-5 M66.5,282.86 h5 M472.0,282.86 h-5 M66.5,279.51 h5 M472.0,279.51 h-5 M66.5,276.55 h5 M472.0,276.55 h-5 M66.5,273.90 h10 M472.0,273.90 h-10 M66.5,256.49 h5 M472.0,256.49 h-5 M66.5,246.30 h5 M472.0,246.30 h-5 M66.5,239.07 h5 M472.0,239.07 h-5 M66.5,233.46 h5 M472.0,233.46 h-5 M66.5,228.88 h5 M472.0,228.88 h-5 M66.5,225.01 h5 M472.0,225.01 h-5 M66.5,221.66 h5 M472.0,221.66 h-5 M66.5,218.70 h5 M472.0,218.70 h-5 M66.5,216.05 h10 M472.0,216.05 h-10 M66.5,198.64 h5 M472.0,198.64 h-5 M66.5,188.45 h5 M472.0,188.45 h-5 M66.5,181.22 h5 M472.0,181.22 h-5 M66.5,175.61 h5 M472.0,175.61 h-5 M66.5,171.03 h5 M472.0,171.03 h-5 M66.5,167.16 h5 M472.0,167.16 h-5 M66.5,163.81 h5 M472.0,163.81 h-5 M66.5,160.85 h5 M472.0,160.85 h-5 M66.5,158.20 h10 M472.0,158.20 h-10 M66.5,140.79 h5 M472.0,140.79 h-5 M66.5,130.60 h5 M472.0,130.60 h-5 M66.5,123.37 h5 M472.0,123.37 h-5 M66.5,117.76 h5 M472.0,117.76 h-5 M66.5,113.18 h5 M472.0,113.18 h-5 M66.5,109.31 h5 M472.0,109.31 h-5 M66.5,105.96 h5 M472.0,105.96 h-5 M66.5,103.00 h5 M472.0,103.00 h-5 M66.5,100.35 h10 M472.0,100.35 h-10 M66.5,82.94 h5 M472.0,82.94 h-5 M66.5,72.75 h5 M472.0,72.75 h-5 M66.5,65.52 h5 M472.0,65.52 h-5 M66.5,59.91 h5 M472.0,59.91 h-5 M66.5,55.33 h5 M472.0,55.33 h-5 M66.5,51.46 h5 M472.0,51.46 h-5 M66.5,48.11 h5 M472.0,48.11 h-5 M66.5,45.15 h5 M472.0,45.15 h-5 M66.5,42.50 h10 M472.0,42.50 h-10 M66.5,25.09 h5 M472.0,25.09 h-5 M66.5,14.90 h5 M472.0,14.90 h-5 M66.5,7.67 h5 M472.0,7.67 h-5" stroke="#000" stroke-width="1.2" fill="none"/>
<g style="filter:grayscale(1)"><text transform="translate(115.20,351.20)" text-anchor="middle" font-family="Liberation Sans" font-size="20.9" fill="#000" stroke="#fff" stroke-width="0.0">0</text>
<text transform="translate(123.80,351.20)" text-anchor="middle" font-family="Liberation Sans" font-size="20.9" fill="#000" stroke="#fff" stroke-width="0.0">.</text>
<text transform="translate(134.00,351.20) scale(0.8,1.0)" text-anchor="middle" font-family="Liberation Sans" font-size="20.9" fill="#000" stroke="#fff" stroke-width="0.0">1</text>
<text transform="translate(239.50,351.20) scale(0.8,1.0)" text-anchor="middle" font-family="Liberation Sans" font-size="20.9" fill="#000" stroke="#fff" stroke-width="0.0">1</text>
<text transform="translate(350.00,351.20) scale(0.8,1.0)" text-anchor="middle" font-family="Liberation Sans" font-size="20.9" fill="#000" stroke="#fff" stroke-width="0.0">1</text>
<text transform="translate(362.60,351.20)" text-anchor="middle" font-family="Liberation Sans" font-size="20.9" fill="#000" stroke="#fff" stroke-width="0.0">0</text>
<text transform="translate(459.30,351.20) scale(0.8,1.0)" text-anchor="middle" font-family="Liberation Sans" font-size="20.9" fill="#000" stroke="#fff" stroke-width="0.0">1</text>
<text transform="translate(471.20,351.20)" text-anchor="middle" font-family="Liberation Sans" font-size="20.9" fill="#000" stroke="#fff" stroke-width="0.0">0</text>
<text transform="translate(484.20,351.20)" text-anchor="middle" font-family="Liberation Sans" font-size="20.9" fill="#000" stroke="#fff" stroke-width="0.0">0</text>
<text transform="translate(220.30,392.00) scale(1.25,1.0)" text-anchor="middle" font-family="Liberation Mono" font-size="20.2" fill="#000" stroke="#000" stroke-width="0.1">k</text>
<text transform="translate(242.40,391.60) scale(1.15,1.12)" text-anchor="middle" font-family="Liberation Mono" font-size="20.2" fill="#000" stroke="#fff" stroke-width="0">[</text>
<text transform="translate(253.10,392.00) scale(1.25,1.0)" text-anchor="middle" font-family="Liberation Mono" font-size="20.2" fill="#000" stroke="#000" stroke-width="0.1">h</text>
<text transform="translate(265.60,392.00) scale(1.25,1.0)" text-anchor="middle" font-family="Liberation Mono" font-size="20.2" fill="#000" stroke="#000" stroke-width="0.1">/</text>
<text transform="translate(281.80,392.00) scale(1.4,1.0)" text-anchor="middle" font-family="Liberation Mono" font-size="20.2" fill="#000" stroke="#000" stroke-width="0.1">M</text>
<text transform="translate(295.50,392.00) scale(1.25,1.0)" text-anchor="middle" font-family="Liberation Mono" font-size="20.2" fill="#000" stroke="#000" stroke-width="0.1">p</text>
<text transform="translate(309.30,392.00) scale(1.25,1.0)" text-anchor="middle" font-family="Liberation Mono" font-size="20.2" fill="#000" stroke="#000" stroke-width="0.1">c</text>
<text transform="translate(319.90,391.60) scale(1.15,1.12)" text-anchor="middle" font-family="Liberation Mono" font-size="20.2" fill="#000" stroke="#fff" stroke-width="0">]</text>
<text transform="translate(53.30,60.55) rotate(-90) scale(0.8,1.0)" text-anchor="middle" font-family="Liberation Sans" font-size="20.9" fill="#000" stroke="#fff" stroke-width="0.0">1</text>
<text transform="translate(53.30,47.95) rotate(-90)" text-anchor="middle" font-family="Liberation Sans" font-size="20.9" fill="#000" stroke="#fff" stroke-width="0.0">0</text>
<text transform="translate(53.30,35.65) rotate(-90)" text-anchor="middle" font-family="Liberation Sans" font-size="20.9" fill="#000" stroke="#fff" stroke-width="0.0">0</text>
<text transform="translate(53.30,23.35) rotate(-90)" text-anchor="middle" font-family="Liberation Sans" font-size="20.9" fill="#000" stroke="#fff" stroke-width="0.0">0</text>
<text transform="translate(53.30,112.70) rotate(-90) scale(0.8,1.0)" text-anchor="middle" font-family="Liberation Sans" font-size="20.9" fill="#000" stroke="#fff" stroke-width="0.0">1</text>
<text transform="translate(53.30,100.10) rotate(-90)" text-anchor="middle" font-family="Liberation Sans" font-size="20.9" fill="#000" stroke="#fff" stroke-width="0.0">0</text>
<text transform="translate(53.30,87.80) rotate(-90)" text-anchor="middle" font-family="Liberation Sans" font-size="20.9" fill="#000" stroke="#fff" stroke-width="0.0">0</text>
<text transform="translate(53.30,164.55) rotate(-90) scale(0.8,1.0)" text-anchor="middle" font-family="Liberation Sans" font-size="20.9" fill="#000" stroke="#fff" stroke-width="0.0">1</text>
<text transform="translate(53.30,151.95) rotate(-90)" text-anchor="middle" font-family="Liberation Sans" font-size="20.9" fill="#000" stroke="#fff" stroke-width="0.0">0</text>
<text transform="translate(53.30,215.60) rotate(-90) scale(0.8,1.0)" text-anchor="middle" font-family="Liberation Sans" font-size="20.9" fill="#000" stroke="#fff" stroke-width="0.0">1</text>
<text transform="translate(53.30,282.90) rotate(-90)" text-anchor="middle" font-family="Liberation Sans" font-size="20.9" fill="#000" stroke="#fff" stroke-width="0.0">0</text>
<text transform="translate(53.30,274.40) rotate(-90)" text-anchor="middle" font-family="Liberation Sans" font-size="20.9" fill="#000" stroke="#fff" stroke-width="0.0">.</text>
<text transform="translate(53.30,264.70) rotate(-90) scale(0.8,1.0)" text-anchor="middle" font-family="Liberation Sans" font-size="20.9" fill="#000" stroke="#fff" stroke-width="0.0">1</text>
<text transform="translate(22.10,183.20) rotate(-90)" text-anchor="middle" font-family="Liberation Sans" font-size="20.5" fill="#000" stroke="#fff" stroke-width="0.0">Δ</text>
<text transform="translate(11.30,173.00) rotate(-90) scale(1.2,1.0)" text-anchor="middle" font-family="Liberation Sans" font-size="14.2" fill="#000" stroke="#000" stroke-width="0.25">2</text>
<text transform="translate(21.80,164.00) rotate(-90) scale(1.0,1.12)" text-anchor="middle" font-family="Liberation Mono" font-size="20.2" fill="#000" stroke="#fff" stroke-width="0.0">(</text>
<text transform="translate(22.10,154.50) rotate(-90) scale(1.3,1.0)" text-anchor="middle" font-family="Liberation Mono" font-size="20.2" fill="#000" stroke="#000" stroke-width="0.15">k</text>
<text transform="translate(21.80,142.80) rotate(-90) scale(1.0,1.12)" text-anchor="middle" font-family="Liberation Mono" font-size="20.2" fill="#000" stroke="#fff" stroke-width="0.0">)</text></g>
</svg>

</body></html>
